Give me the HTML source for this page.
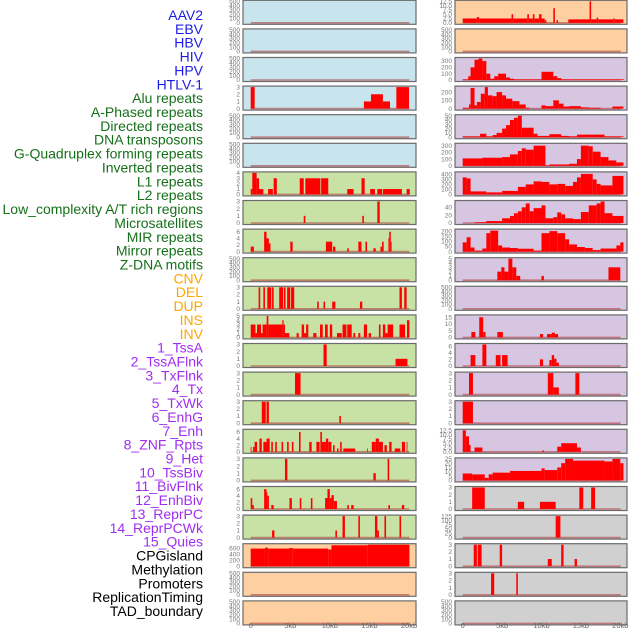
<!DOCTYPE html>
<html><head><meta charset="utf-8"><style>
html,body{margin:0;padding:0;background:#fff;}
svg{display:block;font-family:"Liberation Sans",sans-serif;}
</style></head><body>
<svg id="chart" width="630" height="630" viewBox="0 0 630 630" xmlns="http://www.w3.org/2000/svg"></svg>
<script>
// ---------- data ----------
const rowLabels = ["AAV2","EBV","HBV","HIV","HPV","HTLV-1","Alu repeats","A-Phased repeats","Directed repeats","DNA transposons","G-Quadruplex forming repeats","Inverted repeats","L1 repeats","L2 repeats","Low_complexity A/T rich regions","Microsatellites","MIR repeats","Mirror repeats","Z-DNA motifs","CNV","DEL","DUP","INS","INV","1_TssA","2_TssAFlnk","3_TxFlnk","4_Tx","5_TxWk","6_EnhG","7_Enh","8_ZNF_Rpts","9_Het","10_TssBiv","11_BivFlnk","12_EnhBiv","13_ReprPC","14_ReprPCWk","15_Quies","CPGisland","Methylation","Promoters","ReplicationTiming","TAD_boundary"];
const rowGroups = [6,13,5,15,5];
const groupColors = ["#1c1ce6","#16701a","#ffa500","#a02ef0","#000000"];
const xTickValues = [0,5,10,15,20];
const xTickLabels = ["0","5kb","10kb","15kb","20kb"];
const leftBg = ["#c8e4ec","#c8e4ec","#c8e4ec","#c8e4ec","#c8e4ec","#c8e4ec","#c8e2a6","#c8e2a6","#c8e2a6","#c8e2a6","#c8e2a6","#c8e2a6","#c8e2a6","#c8e2a6","#c8e2a6","#c8e2a6","#c8e2a6","#c8e2a6","#c8e2a6","#fecfa0","#fecfa0","#fecfa0"];
const rightBg = ["#fecfa0","#fecfa0","#d6c6e2","#d6c6e2","#d6c6e2","#d6c6e2","#d6c6e2","#d6c6e2","#d6c6e2","#d6c6e2","#d6c6e2","#d6c6e2","#d6c6e2","#d6c6e2","#d6c6e2","#d6c6e2","#d6c6e2","#d0d0d0","#d0d0d0","#d0d0d0","#d0d0d0","#d0d0d0"];
const T500=[0,100,200,300,400,500], T3=[0,1,2,3], T6=[0,2,4,6];
const leftYmax = [500,500,500,3,500,500,4,3,6.5,500,3,5,3,3,3,6.5,3,6.5,3,720,500,500];
const leftTicks = [T500,T500,T500,T3,T500,T500,[0,1,2,3,4],T3,T6,T500,T3,[0,1,2,3,4,5],T3,T3,T3,T6,T3,T6,T3,[0,200,400,600],T500,T500];
const leftSegments = [
 [],[],[],
 [[0,0.5,3],[14.3,15.2,1],[15.2,16.7,2],[16.7,17.6,1],[18.4,20,3]],
 [],[],
 [[0,0.2,1],[0.2,0.75,4],[0.75,1.05,3],[1.05,1.6,1],[2.2,2.8,1],[2.9,3.3,3],[6.2,6.7,3],[6.9,8.8,3],[8.9,9.8,3],[12.2,13,1],[14,14.4,3],[15.1,15.7,1],[16,16.6,1],[16.7,19.1,1],[19.7,20.1,1]],
 [[6.7,6.9,1],[14.1,14.3,1],[16,16.3,3]],
 [[0,0.4,1.5],[1.7,2,6],[2,2.3,4],[2.3,2.5,2.5],[5,5.3,3],[9.5,10.3,3],[10.4,10.7,1.5],[12.2,12.4,1],[13.6,14,3],[14.5,14.7,3],[15.5,15.8,1],[16.4,16.6,1.5],[16.6,16.8,3],[17.4,17.5,4],[17.5,17.7,6],[17.7,17.8,3]],
 [],
 [[1,1.2,3],[1.6,1.8,3],[2.1,2.6,3],[2.7,2.9,3],[3.6,4.1,3],[4.2,4.4,3],[4.6,5,3],[5.1,5.5,3],[8.4,8.6,1],[9.2,9.4,1],[10.3,10.7,1],[13.8,14.1,1],[18.8,19.1,3],[19.4,19.7,3]],
 [[0,0.6,3],[0.6,0.8,1],[0.8,1.3,3],[1.3,1.5,1],[1.5,2.02,3],[2.02,2.23,5],[2.23,4,3],[4,4.15,4],[4.15,4.33,3],[4.33,4.88,1],[5.8,6.06,1],[6.44,6.74,3],[6.74,7,1],[7,7.28,3],[7.9,8.3,1],[8.76,9.1,3],[9.39,9.73,3],[10,10.3,3],[10.9,11.5,1],[11.6,12.1,3],[12.2,12.76,3],[12.97,13.2,1],[13.6,13.85,1],[14.3,14.7,3],[14.9,15.2,1],[16.2,16.4,3],[16.7,17,3],[17,17.3,1],[17.3,18,3],[18.8,19.5,3],[19.75,20.05,4]],
 [[9.2,9.6,3],[18.3,19.8,1]],
 [[5.6,6.3,3]],
 [[1.4,1.9,3],[2,2.3,3],[11.2,11.4,1]],
 [[0,0.1,1.5],[0.3,0.5,1.5],[0.5,0.8,3],[1.1,1.4,4],[1.6,2,3],[2,2.4,4],[2.6,2.8,3],[3.1,3.3,3],[3.9,4.1,3],[4.6,4.8,3],[5.2,5.4,3],[6.1,6.3,6],[7.4,7.7,3],[8.3,8.7,3],[8.8,9,6],[9,9.5,3],[9.5,9.8,4],[9.8,10.2,3],[10.4,10.6,2],[10.9,11.1,1],[11.3,11.5,3],[11.7,13.2,1],[14.7,14.8,1],[15.3,15.8,3],[15.8,16.2,4],[16.2,16.7,3],[16.9,17.2,2],[17.5,17.8,3],[18.2,18.9,1],[19.1,19.5,3],[19.7,19.8,3]],
 [[4.33,4.63,3],[15.5,15.8,1],[17.3,17.5,3]],
 [[0,0.2,3.3],[0.2,0.4,1.2],[1.7,2,6],[2,2.1,5],[2.1,2.3,4],[2.6,2.9,1.2],[4.9,5.2,3.3],[6.2,6.4,3.3],[7.6,7.8,3.3],[9.4,9.7,3.3],[9.7,10,6],[10,10.2,3.3],[10.2,10.5,4.2],[10.5,10.9,2.4],[12.2,12.4,1.2],[12.7,13,1.2],[17.4,17.6,1.2],[19.1,19.4,1.2]],
 [[2.7,3,1],[10.7,10.9,1],[11.6,11.9,3],[13.6,13.8,3],[15.7,16,3],[16,16.2,1],[16.9,17.1,3],[18.8,19,3]],
 [[0,1.8,590],[1.8,2.2,620],[2.2,4.9,590],[4.9,5.3,610],[5.3,9.8,590],[9.8,10.2,560],[10.2,14.8,700],[14.8,20.05,720]],
 [],[]
];
const rightYmax = [12.5,500,340,260,50,320,430,55,210,5,500,16,6.5,3,3,12.5,25,3,125,3,3,500];
const rightTicks = [[0,2.5,5,7.5,10,12.5],T500,[0,100,200,300],[0,100,200],[0,10,20,30,40,50],[0,100,200,300],[0,100,200,300,400],[0,20,40],[0,50,100,150,200],[0,1,2,3,4,5],T500,[0,5,10,15],T6,T3,T3,[0,2.5,5,7.5,10,12.5],[0,5,10,15,20,25],T3,[0,25,50,75,100,125],T3,T3,T500];
const rightSegments = [
 [[0,1.8,2.5],[1.8,2.1,3.3],[2.1,6.2,2.5],[6.2,6.4,5],[6.4,8.2,2.5],[8.2,8.4,5],[8.4,8.9,2.5],[8.9,9.1,5],[9.1,9.7,2.5],[9.7,10,5],[10,10.4,2.5],[10.4,10.6,1.5],[11.5,11.7,8.5],[11.9,12.1,1.5],[13.4,16.1,2],[16.1,16.3,12.5],[16.3,17,2],[17,17.2,3],[17.2,19.1,2],[19.1,19.3,2.5],[19.3,20.4,2]],
 [],
 [[0,0.7,10],[0.7,1,60],[1,1.5,200],[1.5,2,320],[2,2.5,340],[2.5,3,300],[3,3.5,100],[3.5,4,20],[4,4.5,60],[4.5,5.5,100],[5.5,6,40],[6,6.5,20],[6.5,10,10],[10,11.5,130],[11.5,12,60],[12,12.5,30],[12.5,20.5,10]],
 [[0,0.8,10],[0.8,1,50],[1,1.5,250],[1.5,1.8,40],[1.8,2.3,80],[2.3,2.8,180],[2.8,3.2,260],[3.2,3.8,160],[3.8,4.3,150],[4.3,5,200],[5,5.5,160],[5.5,6.3,120],[6.3,7.2,90],[7.2,8,50],[8,8.5,10],[8.5,10,0],[10,10.5,40],[10.5,11.5,30],[11.5,12.2,100],[12.2,12.8,60],[12.8,13.5,25],[13.5,15,30],[15,16,15],[16,17.5,10],[17.5,19,0],[19,20.4,25]],
 [[0,2.2,2],[2.2,3,8],[3,3.8,2],[3.8,4.3,5],[4.3,5,10],[5,5.5,20],[5.5,6,28],[6,6.5,40],[6.5,7,45],[7,7.5,50],[7.5,9,22],[9,9.5,8],[9.5,11,3],[11,12.5,7],[12.5,13.5,3],[13.5,14.5,2],[14.5,18,6],[18,20.4,2]],
 [[0,2.5,110],[2.5,5,120],[5,6,130],[6,7,170],[7,7.5,220],[7.5,8,260],[8,9,240],[9,10.5,300],[10.5,11,5],[11,13.5,20],[13.5,14.5,30],[14.5,15,100],[15,16,300],[16,16.5,290],[16.5,17.5,210],[17.5,18.5,130],[18.5,19.5,80],[19.5,20.4,50]],
 [[0,0.5,340],[0.5,1,320],[1,3,60],[3,5,40],[5,7,70],[7,8,150],[8,9,200],[9,10,260],[10,11,250],[11,12,200],[12,13,210],[13,14,170],[14,14.5,250],[14.5,15,340],[15,16.5,410],[16.5,17,300],[17,17.5,210],[17.5,19,180],[19,20.4,370]],
 [[0,1.5,0],[1.5,2,2],[2,3,2],[3,5,5],[5,6,12],[6,6.5,18],[6.5,7,25],[7,7.5,30],[7.5,8,40],[8,8.5,50],[8.5,9,30],[9,10,38],[10,10.5,45],[10.5,11.5,12],[11.5,12,15],[12,12.5,27],[12.5,13,22],[13,14,12],[14,15,10],[15,16,28],[16,17,45],[17,17.5,50],[17.5,18,55],[18,19,25],[19,20.4,18]],
 [[0,0.5,90],[0.5,1,140],[1,1.5,40],[1.5,2.5,10],[2.5,3,30],[3,3.5,180],[3.5,4.5,205],[4.5,5,60],[5,6,40],[6,7,35],[7,9,28],[9,10,10],[10,11,180],[11,12,200],[12,13,180],[13,13.5,120],[13.5,14.5,70],[14.5,15.5,45],[15.5,16.5,35],[16.5,17.5,15],[17.5,19.5,30],[19.5,20,60],[20,20.4,90]],
 [[4.4,4.9,2],[4.9,5.3,3],[5.3,5.8,2],[5.8,6.3,5],[6.3,6.8,3],[6.8,7.3,1],[10,10.3,1],[18.5,20,3]],
 [],
 [[1.1,1.6,4],[2.1,2.6,15],[2.6,2.9,4],[4.4,5.1,4],[9.8,10.2,2.5],[10.7,11.3,2.5],[11.3,11.7,3.5],[11.7,12.1,2.5]],
 [[1,1.6,3.3],[2.5,3,6.5],[4.2,4.8,3.3],[5,5.7,3.3],[9.8,10.2,2],[11,11.3,1.8],[11.3,11.6,3.3],[11.6,11.9,2.2],[11.9,12.2,1]],
 [[0.8,1.3,3],[10.8,11.5,3],[11.5,12.2,1],[14.3,14.8,3]],
 [[0,1.3,3]],
 [[0,0.4,12.5],[0.4,0.8,9],[0.8,1,4],[1.5,2.5,2.5],[10.1,10.3,0.8],[12,12.5,3],[12.5,14.5,5],[14.5,15,2.5]],
 [[0,1.2,8],[1.2,2.8,7],[2.8,3.3,3],[3.3,3.8,7],[3.8,6,9],[6,10,11],[10,10.4,14],[10.4,12,12],[12,12.5,15],[12.5,13,20],[13,14,25],[14,18,23],[18,19,22],[19,20,25],[20,20.4,20]],
 [[1.2,2.8,3],[7,7.8,1],[9.8,11.8,1],[14.8,15.3,3],[16.3,16.8,3]],
 [[11.8,12.4,125]],
 [[1.4,1.8,3],[1.9,2.4,3],[4.7,5,3],[10.8,11.3,1],[12.5,12.8,3],[14.2,14.5,1]],
 [[3.6,4,3],[6.8,7,3]],
 []
];
// ---------- drawing ----------
const NS="http://www.w3.org/2000/svg";
const svg=document.getElementById('chart');
function mk(tag,attrs,parent){const e=document.createElementNS(NS,tag);for(const k in attrs)e.setAttribute(k,attrs[k]);(parent||svg).appendChild(e);return e;}
const labelG=mk('g',{});


let li=0;
rowGroups.forEach((n,g)=>{for(let j=0;j<n;j++){const y=15+li*13.86;
 const t=mk('text',{x:203,y:y+5,'text-anchor':'end','font-size':'14',fill:groupColors[g]},labelG);
 t.textContent=rowLabels[li];
 
 
 li++;}});
const cols=[{x0:243,x1:416,zx:250.7,k:7.915,bg:leftBg,ym:leftYmax,tk:leftTicks,sg:leftSegments,name:'left'},
            {x0:455,x1:627,zx:462.7,k:7.88,bg:rightBg,ym:rightYmax,tk:rightTicks,sg:rightSegments,name:'right'}];
cols.forEach(c=>{
 const xs=kb=>c.zx+kb*c.k;
 for(let i=0;i<22;i++){
  const top=28.6*i+0.3,h=24,bot=top+h;
  const ys=v=>(bot-1.5)-(v/c.ym[i])*(h-2.5);
  const dec=c.tk[i].some(v=>!Number.isInteger(v));
  const g=mk('g',{});
  
  
  mk('rect',{x:c.x0,y:top,width:c.x1-c.x0,height:h,fill:c.bg[i],stroke:'#6b6b6b','stroke-width':1.2},g);
  const base=mk('line',{x1:xs(0),x2:xs(20.05),y1:bot-1.5,y2:bot-1.5,stroke:'#b04040','stroke-opacity':0.6,'stroke-width':1.6},g);
  
  
  c.sg[i].forEach(s=>{
   const v=Math.min(s[2],c.ym[i]);
   const r=mk('rect',{x:xs(s[0]),y:ys(v),width:Math.max(0.8,xs(s[1])-xs(s[0])),height:(bot-1.5)-ys(v),fill:'#ff0000'},g);
   
   
  });
  c.tk[i].forEach(v=>{
   const t=mk('text',{x:c.x0-3,y:ys(v)+2.2,'text-anchor':'end','font-size':'6.5',fill:'#777'},g);
   t.textContent=dec?v.toFixed(1):String(v);
   
   
  });
 }
 xTickValues.forEach((v,j)=>{
  const t=mk('text',{x:xs(v),y:628,'text-anchor':'middle','font-size':'7.5',fill:'#666'});
  t.textContent=xTickLabels[j];
  
  
 });
});
</script>
</body></html>
